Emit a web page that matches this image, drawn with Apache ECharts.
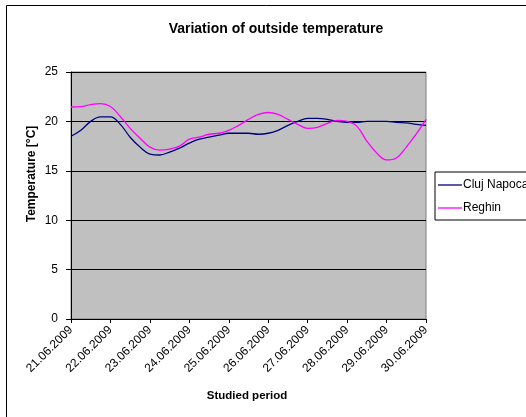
<!DOCTYPE html>
<html>
<head>
<meta charset="utf-8">
<script src="https://cdn.jsdelivr.net/npm/echarts@6/dist/echarts.min.js"></script>
<style>
  html, body { margin: 0; padding: 0; background: #fff; }
  #chart { width: 526px; height: 417px; }
</style>
</head>
<body>
<div id="chart"></div>
<script>
// Days of the studied period; readings every 6 hours
const days = ['21.06.2009', '22.06.2009', '23.06.2009', '24.06.2009', '25.06.2009',
              '26.06.2009', '27.06.2009', '28.06.2009', '29.06.2009', '30.06.2009'];
const hours = ['00:00', '06:00', '12:00', '18:00'];

// Outside temperature [°C]
const clujNapoca = [18.5, 19.1, 20.0, 20.45, 20.45, 19.7, 18.4, 17.4, 16.7, 16.6,
                    16.9, 17.3, 17.8, 18.2, 18.4, 18.6, 18.8, 18.8, 18.8, 18.7,
                    18.8, 19.1, 19.6, 20.0, 20.3, 20.3, 20.2, 20.0, 19.9, 19.9,
                    20.0, 20.0, 20.0, 19.9, 19.85, 19.7, 19.6];
const reghin = [21.46, 21.5, 21.7, 21.8, 21.5, 20.5, 19.3, 18.3, 17.4, 17.1,
                17.2, 17.5, 18.2, 18.4, 18.7, 18.8, 19.1, 19.6, 20.2, 20.7,
                20.9, 20.7, 20.2, 19.7, 19.3, 19.4, 19.8, 20.1, 20.0, 19.5,
                18.0, 16.8, 16.1, 16.3, 17.4, 18.7, 20.2];

const yTicks = { min: 0, max: 25, step: 5 };

// Category list: each day split into 6-hour steps, last day ends at 00:00
const categories = [];
days.forEach((d, i) => {
  if (i < days.length - 1) hours.forEach(h => categories.push(d + ' ' + h));
  else categories.push(d + ' ' + hours[0]);
});

const font = '"Liberation Sans", Arial, sans-serif';
const chart = echarts.init(document.getElementById('chart'), null, { renderer: 'canvas' });

chart.setOption({
  animation: false,
  backgroundColor: '#ffffff',
  textStyle: { fontFamily: font },
  title: {
    text: 'Variation of outside temperature',
    left: 271, top: 17,
    textAlign: 'center',
    textStyle: { fontFamily: font, fontSize: 14, fontWeight: 'bold', color: '#000' }
  },
  graphic: [
    { type: 'rect', shape: { x: 6.5, y: 5.5, width: 600, height: 430 },
      style: { fill: 'none', stroke: '#000', lineWidth: 1 }, silent: true },
    { type: 'text', x: 32, y: 174, rotation: Math.PI / 2,
      style: { text: 'Temperature [°C]', fontFamily: font, fontSize: 12, fontWeight: 'bold',
               fill: '#000', align: 'center', verticalAlign: 'middle' } },
    { type: 'text', x: 247, y: 396,
      style: { text: 'Studied period', fontFamily: font, fontSize: 11.5, fontWeight: 'bold',
               fill: '#000', align: 'center', verticalAlign: 'middle' } }
  ],
  legend: {
    orient: 'vertical',
    left: 435, top: 172,
    padding: [7, 40, 6, 3],
    icon: 'rect',
    itemWidth: 24, itemHeight: 1.3, itemGap: 11,
    borderColor: '#000', borderWidth: 1,
    backgroundColor: '#fff',
    textStyle: { fontFamily: font, fontSize: 12, color: '#000', padding: [0, 0, 0, -4], lineHeight: 12 },
    data: ['Cluj Napoca', 'Reghin']
  },
  grid: {
    left: 71, right: 100, top: 72, bottom: 98,
    show: true, backgroundColor: '#c0c0c0', borderColor: '#808080', borderWidth: 1
  },
  xAxis: {
    type: 'category',
    data: categories,
    boundaryGap: false,
    axisLine: { onZero: false, lineStyle: { color: '#000', width: 1 } },
    axisTick: { show: true, interval: 3, length: 4, inside: false, lineStyle: { color: '#000' } },
    axisLabel: {
      interval: 3, rotate: 45, margin: 9,
      fontFamily: font, fontSize: 12, color: '#000',
      formatter: v => v.split(' ')[0]
    },
    splitLine: { show: false }
  },
  yAxis: {
    type: 'value',
    min: yTicks.min, max: yTicks.max, interval: yTicks.step,
    axisLine: { show: true, lineStyle: { color: '#000', width: 1 } },
    axisTick: { show: true, length: 5, lineStyle: { color: '#000' } },
    axisLabel: { margin: 13, fontFamily: font, fontSize: 12, color: '#000' },
    splitLine: { show: true, lineStyle: { color: '#000', width: 1 } }
  },
  series: [
    { name: 'Cluj Napoca', type: 'line', data: clujNapoca, smooth: 0.4,
      symbol: 'none', lineStyle: { color: '#000080', width: 1.3 },
      itemStyle: { color: '#000080' } },
    { name: 'Reghin', type: 'line', data: reghin, smooth: 0.4,
      symbol: 'none', lineStyle: { color: '#ff00ff', width: 1.3 },
      itemStyle: { color: '#ff00ff' } }
  ]
});
</script>
</body>
</html>
